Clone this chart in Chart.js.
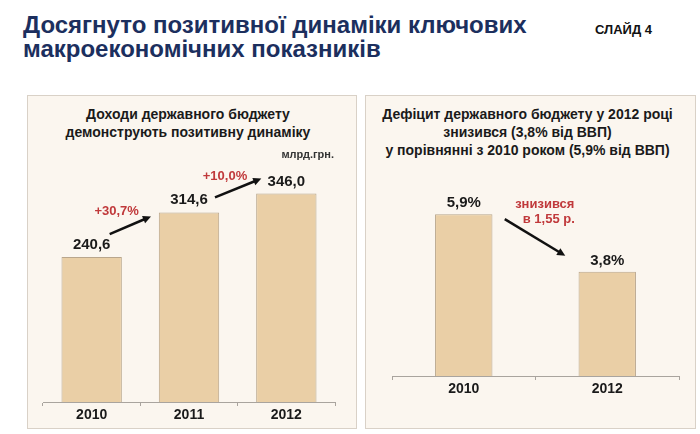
<!DOCTYPE html>
<html>
<head>
<meta charset="utf-8">
<script src="https://cdn.jsdelivr.net/npm/chart.js@4"></script>
<style>
  body { margin: 0; background: #fff; }
  #slide { position: relative; width: 700px; height: 434px; overflow: hidden; font-family: "Liberation Sans", Arial, sans-serif; }
  .title { position: absolute; left: 23px; top: 13px; font-size: 24px; line-height: 24px; color: #1c2f5e; font-weight: bold; }
  .slide-no { position: absolute; left: 595px; top: 22px; font-size: 13px; font-weight: bold; color: #111; }
  .panel { position: absolute; top: 95px; height: 332px; border: 1px solid #d9d1c7; background: #fbf6ef; }
  .panel h3 { margin: 0; position: absolute; left: 0; right: 0; text-align: center; font-size: 14px; line-height: 18px; font-weight: bold; color: #1a1a1a; }
  .panel canvas { position: absolute; left: 0; top: 0; }
</style>
</head>
<body>
<div id="slide">
  <div class="title">Досягнуто позитивної динаміки ключових<br>макроекономічних показників</div>
  <div class="slide-no">СЛАЙД 4</div>

  <div class="panel" style="left:27px; width:328px;">
    <h3 style="top:9px; left:-8px;">Доходи державного бюджету<br>демонструють позитивну динаміку</h3>
    <div style="position:absolute; left:0; top:0; width:328px; height:332px;"><canvas id="revenueChart"></canvas></div>
  </div>

  <div class="panel" style="left:365px; width:329px;">
    <h3 style="top:9px; left:-6px;">Дефіцит державного бюджету у 2012 році<br>знизився (3,8% від ВВП)<br>у порівнянні з 2010 роком (5,9% від ВВП)</h3>
    <div style="position:absolute; left:0; top:0; width:329px; height:332px;"><canvas id="deficitChart"></canvas></div>
  </div>
</div>

<script>
// revenue chart data (billion UAH)
const revenueYears = ["2010", "2011", "2012"];
const revenueValues = [240.6, 314.6, 346.0];
const revenueLabels = ["240,6", "314,6", "346,0"];
const revenueGrowth = ["+30,7%", "+10,0%"];
const revenueUnit = "млрд.грн.";

// deficit chart data (% of GDP)
const deficitYears = ["2010", "2012"];
const deficitValues = [5.9, 3.8];
const deficitLabels = ["5,9%", "3,8%"];
const deficitNote = ["знизився", "в 1,55 р."];

const barFill = "#eacfa6";
const barEdge = "#b9a68c";
const axisGray = "#a9a49e";
const noteRed = "#c0393b";

function drawArrow(ctx, x1, y1, x2, y2) {
  const ang = Math.atan2(y2 - y1, x2 - x1);
  const head = 9;
  ctx.save();
  ctx.strokeStyle = "#111";
  ctx.fillStyle = "#111";
  ctx.lineWidth = 2.5;
  ctx.beginPath();
  ctx.moveTo(x1, y1);
  ctx.lineTo(x2 - Math.cos(ang) * head * 0.8, y2 - Math.sin(ang) * head * 0.8);
  ctx.stroke();
  ctx.beginPath();
  ctx.moveTo(x2, y2);
  ctx.lineTo(x2 - head * Math.cos(ang - 0.45), y2 - head * Math.sin(ang - 0.45));
  ctx.lineTo(x2 - head * Math.cos(ang + 0.45), y2 - head * Math.sin(ang + 0.45));
  ctx.closePath();
  ctx.fill();
  ctx.restore();
}

function xAxis() {
  return {
    offset: true,
    grid: { display: true, drawOnChartArea: false, drawTicks: true, tickLength: 4, color: axisGray, offset: true },
    border: { display: true, color: axisGray, width: 1 },
    ticks: { color: "#1a1a1a", padding: 1, font: { family: "Liberation Sans", size: 14, weight: "bold" } },
    afterFit: (s) => { s.height = 26; }
  };
}

// ðŸ”¹ value labels + arrows for the revenue chart
const revenueNotes = {
  id: "revenueNotes",
  afterDatasetsDraw(chart) {
    const ctx = chart.ctx;
    const bars = chart.getDatasetMeta(0).data;
    ctx.save();
    ctx.textAlign = "center";
    ctx.textBaseline = "alphabetic";
    ctx.fillStyle = "#1a1a1a";
    ctx.font = "bold 15px 'Liberation Sans'";
    bars.forEach((b, i) => ctx.fillText(revenueLabels[i], b.x, b.y - 8));

    ctx.fillStyle = "#333";
    ctx.font = "bold 11px 'Liberation Sans'";
    ctx.textAlign = "right";
    ctx.fillText(revenueUnit, chart.chartArea.right - 1, chart.chartArea.top - 3);

    ctx.fillStyle = noteRed;
    ctx.font = "bold 13px 'Liberation Sans'";
    ctx.textAlign = "center";
    ctx.fillText(revenueGrowth[0], bars[0].x + 25, bars[0].y - 42);
    ctx.fillText(revenueGrowth[1], bars[1].x + 36, bars[1].y - 32);
    ctx.restore();

    drawArrow(ctx, bars[0].x + 18, bars[0].y - 23, bars[1].x - 38, bars[1].y + 4);
    drawArrow(ctx, bars[1].x + 26, bars[1].y - 15, bars[2].x - 25, bars[2].y - 15);
  }
};

// ðŸ”¹ value labels + arrow for the deficit chart
const deficitNotes = {
  id: "deficitNotes",
  afterDatasetsDraw(chart) {
    const ctx = chart.ctx;
    const bars = chart.getDatasetMeta(0).data;
    ctx.save();
    ctx.textAlign = "center";
    ctx.fillStyle = "#1a1a1a";
    ctx.font = "bold 15px 'Liberation Sans'";
    bars.forEach((b, i) => ctx.fillText(deficitLabels[i], b.x, b.y - 7));

    ctx.fillStyle = noteRed;
    ctx.font = "bold 13px 'Liberation Sans'";
    ctx.fillText(deficitNote[0], bars[0].x + 81, bars[0].y - 6);
    ctx.fillText(deficitNote[1], bars[0].x + 85, bars[0].y + 9);
    ctx.restore();

    drawArrow(ctx, bars[0].x + 41, bars[0].y + 5, bars[1].x - 42, bars[1].y - 16);
  }
};

new Chart(document.getElementById("revenueChart"), {
  type: "bar",
  data: {
    labels: revenueYears,
    datasets: [{
      data: revenueValues,
      backgroundColor: barFill,
      borderColor: barEdge,
      borderWidth: 1,
      categoryPercentage: 1,
      barPercentage: 0.62
    }]
  },
  options: {
    responsive: true,
    maintainAspectRatio: false,
    animation: false,
    layout: { padding: { left: 15, right: 21, top: 65, bottom: 0 } },
    plugins: { legend: { display: false }, tooltip: { enabled: false } },
    scales: {
      x: xAxis(),
      y: { display: false, min: 0, max: 400 }
    }
  },
  plugins: [revenueNotes]
});

new Chart(document.getElementById("deficitChart"), {
  type: "bar",
  data: {
    labels: deficitYears,
    datasets: [{
      data: deficitValues,
      backgroundColor: barFill,
      borderColor: barEdge,
      borderWidth: 1,
      categoryPercentage: 1,
      barPercentage: 0.4
    }]
  },
  options: {
    responsive: true,
    maintainAspectRatio: false,
    animation: false,
    layout: { padding: { left: 26, right: 16, top: 88, bottom: 26 } },
    plugins: { legend: { display: false }, tooltip: { enabled: false } },
    scales: {
      x: xAxis(),
      y: { display: false, min: 0, max: 7 }
    }
  },
  plugins: [deficitNotes]
});
</script>
</body>
</html>
